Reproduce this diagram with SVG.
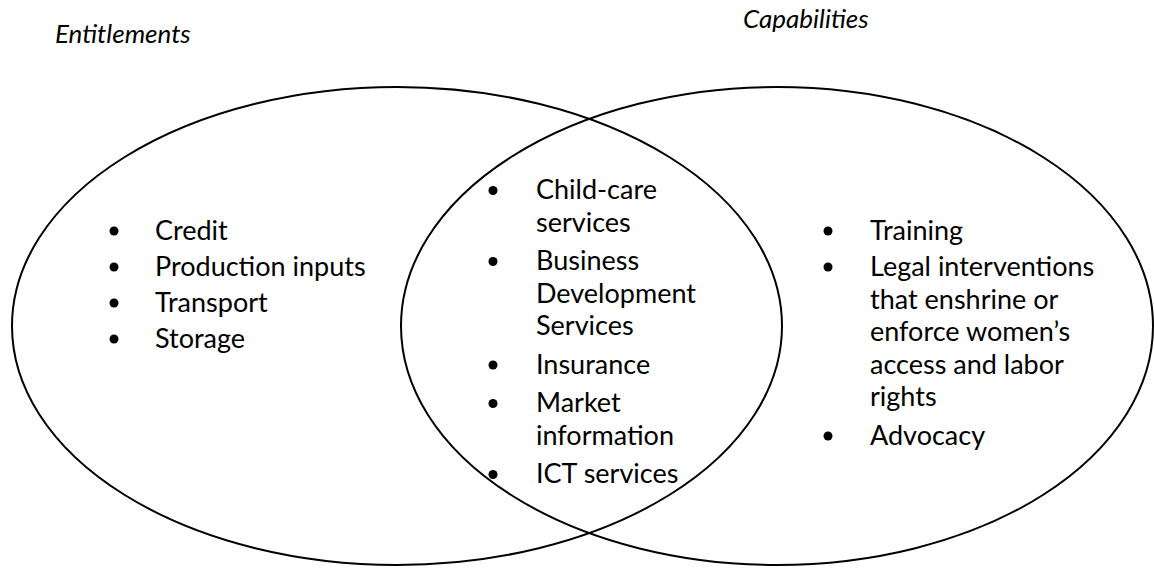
<svg xmlns="http://www.w3.org/2000/svg" width="1154" height="569" viewBox="0 0 1154 569">
<style>
.t{font-family:"Lato","Liberation Sans",sans-serif;font-size:27px;fill:#000}
.h{font-family:"Lato","Liberation Sans",sans-serif;font-size:26px;font-style:italic;fill:#000}
.e{fill:none;stroke:#000;stroke-width:2}
</style>
<rect width="1154" height="569" fill="#fff"/>
<g id="connectors"></g>
<g id="entitlements">
<ellipse class="e" cx="397" cy="326" rx="385" ry="239"/>
<text class="h" x="55" y="43">Entitlements</text>
<g id="entitlements-list">
<circle cx="114" cy="231" r="4.5"/><text class="t" x="155" y="240">Credit</text>
<circle cx="114" cy="267" r="4.5"/><text class="t" x="155" y="276">Production inputs</text>
<circle cx="114" cy="303" r="4.5"/><text class="t" x="155" y="312">Transport</text>
<circle cx="114" cy="339" r="4.5"/><text class="t" x="155" y="348">Storage</text>
</g>
</g>
<g id="capabilities">
<ellipse class="e" cx="777" cy="326" rx="376" ry="239"/>
<text class="h" x="743" y="28">Capabilities</text>
<g id="capabilities-list">
<circle cx="828" cy="231" r="4.5"/><text class="t" x="870" y="240">Training</text>
<circle cx="828" cy="267" r="4.5"/><text class="t" x="870" y="276">Legal interventions</text>
<text class="t" x="870" y="308.5">that enshrine or</text>
<text class="t" x="870" y="341">enforce women’s</text>
<text class="t" x="870" y="373.5">access and labor</text>
<text class="t" x="870" y="406">rights</text>
<circle cx="828" cy="436" r="4.5"/><text class="t" x="870" y="445">Advocacy</text>
</g>
</g>
<g id="overlap">
<circle cx="493" cy="190.5" r="4.5"/><text class="t" x="536" y="199">Child-care</text>
<text class="t" x="536" y="231.5">services</text>
<circle cx="493" cy="261.5" r="4.5"/><text class="t" x="536" y="270">Business</text>
<text class="t" x="536" y="302.5">Development</text>
<text class="t" x="536" y="335">Services</text>
<circle cx="493" cy="365" r="4.5"/><text class="t" x="536" y="373.5">Insurance</text>
<circle cx="493" cy="403.5" r="4.5"/><text class="t" x="536" y="412">Market</text>
<text class="t" x="536" y="444.5">information</text>
<circle cx="493" cy="474.5" r="4.5"/><text class="t" x="536" y="483">ICT services</text>
</g>
</svg>
